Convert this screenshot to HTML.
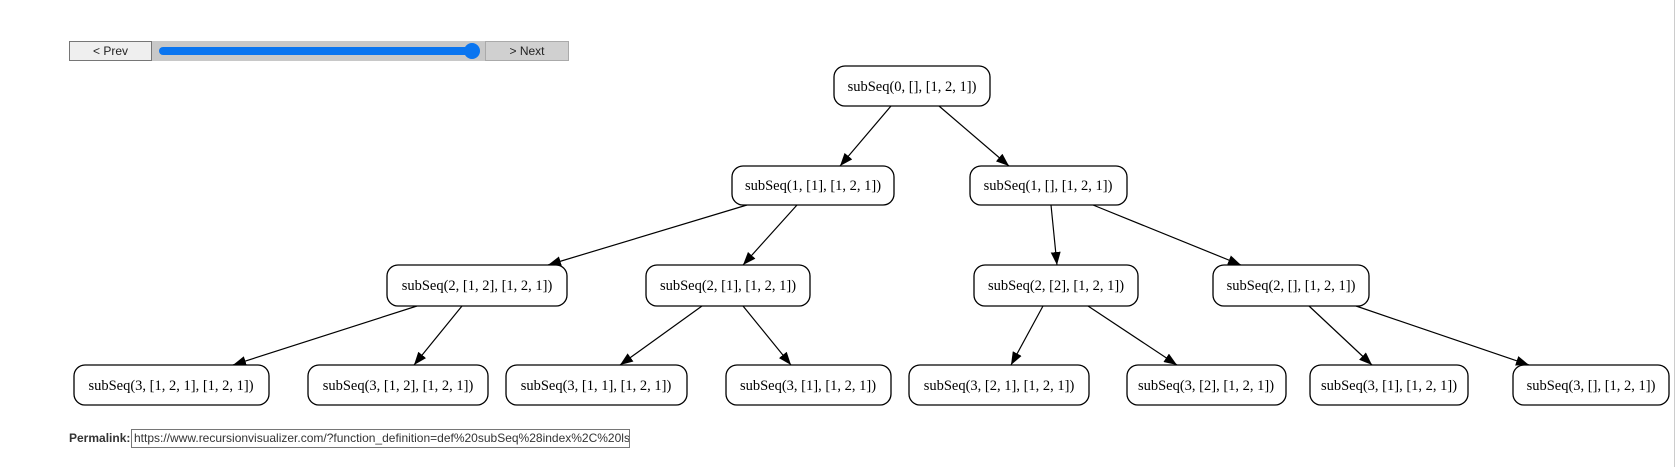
<!DOCTYPE html>
<html><head><meta charset="utf-8"><style>
html,body{margin:0;padding:0;background:#fff;width:1677px;height:467px;overflow:hidden;position:relative;font-family:"Liberation Sans",Arial,sans-serif}
.btn{position:absolute;top:41px;height:20px;font-size:12px;text-align:center;line-height:19px;color:#222;box-sizing:border-box}
#prev{left:69px;width:83px;background:#efefef;border:1px solid #767676}
#bar{position:absolute;left:152px;top:41px;width:333px;height:20px;background:#c8c8c8}
#track{position:absolute;left:159px;top:47px;width:314px;height:8px;border-radius:4px;background:#0a75f0}
#thumb{position:absolute;left:464px;top:43px;width:16px;height:16px;border-radius:50%;background:#0a75f0}
#next{left:485px;width:84px;background:#d0d0d0;border:1px solid #aaa}
#pl{position:absolute;left:69px;top:430px;font-size:12px;font-weight:bold;color:#333;line-height:17px}
#box{position:absolute;left:131px;top:429px;width:499px;height:19px;border:1px solid #767676;box-sizing:border-box;font-size:12px;line-height:17px;padding-left:2px;color:#333;white-space:nowrap;overflow:hidden}
#sb{position:absolute;left:1674px;top:0;width:1px;height:467px;background:#ccc}
svg{position:absolute;left:0;top:0}
text{font-family:"Liberation Serif","Times New Roman",serif;font-size:14.5px;fill:#000}
</style></head><body>
<div id="prev" class="btn">&lt; Prev</div>
<div id="bar"></div><div id="track"></div><div id="thumb"></div>
<div id="next" class="btn">&gt; Next</div>
<svg width="1677" height="467" viewBox="0 0 1677 467">
<defs><marker id="a" markerWidth="13" markerHeight="10" refX="13" refY="5" orient="auto" markerUnits="userSpaceOnUse"><path d="M0,0 L13,5 L0,10 z" fill="#000"/></marker></defs>
<g stroke="#000" stroke-width="1.2" marker-end="url(#a)">
<line x1="891" y1="106" x2="840" y2="166"/>
<line x1="939" y1="106" x2="1009" y2="166"/>
<line x1="747" y1="205" x2="548" y2="265"/>
<line x1="797" y1="205" x2="743" y2="265"/>
<line x1="1051" y1="205" x2="1057" y2="265"/>
<line x1="1093" y1="205" x2="1241" y2="265"/>
<line x1="417" y1="306" x2="233" y2="365"/>
<line x1="462" y1="306" x2="414" y2="365"/>
<line x1="702" y1="306" x2="620" y2="365"/>
<line x1="743" y1="306" x2="791" y2="365"/>
<line x1="1043" y1="306" x2="1011" y2="365"/>
<line x1="1088" y1="306" x2="1177" y2="365"/>
<line x1="1309" y1="306" x2="1372" y2="365"/>
<line x1="1356" y1="306" x2="1529" y2="365"/>
</g>
<g fill="#fff" stroke="#000" stroke-width="1.3">
<rect x="834" y="66" width="156" height="40" rx="11"/>
<rect x="732" y="166" width="162" height="39" rx="11"/>
<rect x="970" y="166" width="157" height="39" rx="11"/>
<rect x="387" y="265" width="180" height="41" rx="11"/>
<rect x="646" y="265" width="164" height="41" rx="11"/>
<rect x="974" y="265" width="164" height="41" rx="11"/>
<rect x="1213" y="265" width="156" height="41" rx="11"/>
<rect x="74" y="365" width="195" height="40" rx="11"/>
<rect x="308" y="365" width="180" height="40" rx="11"/>
<rect x="506" y="365" width="181" height="40" rx="11"/>
<rect x="726" y="365" width="165" height="40" rx="11"/>
<rect x="909" y="365" width="180" height="40" rx="11"/>
<rect x="1127" y="365" width="159" height="40" rx="11"/>
<rect x="1310" y="365" width="158" height="40" rx="11"/>
<rect x="1513" y="365" width="156" height="40" rx="11"/>
</g>
<g text-anchor="middle">
<text x="912" y="91">subSeq(0, [], [1, 2, 1])</text>
<text x="813" y="190">subSeq(1, [1], [1, 2, 1])</text>
<text x="1048" y="190">subSeq(1, [], [1, 2, 1])</text>
<text x="477" y="290">subSeq(2, [1, 2], [1, 2, 1])</text>
<text x="728" y="290">subSeq(2, [1], [1, 2, 1])</text>
<text x="1056" y="290">subSeq(2, [2], [1, 2, 1])</text>
<text x="1291" y="290">subSeq(2, [], [1, 2, 1])</text>
<text x="171" y="390">subSeq(3, [1, 2, 1], [1, 2, 1])</text>
<text x="398" y="390">subSeq(3, [1, 2], [1, 2, 1])</text>
<text x="596" y="390">subSeq(3, [1, 1], [1, 2, 1])</text>
<text x="808" y="390">subSeq(3, [1], [1, 2, 1])</text>
<text x="999" y="390">subSeq(3, [2, 1], [1, 2, 1])</text>
<text x="1206" y="390">subSeq(3, [2], [1, 2, 1])</text>
<text x="1389" y="390">subSeq(3, [1], [1, 2, 1])</text>
<text x="1591" y="390">subSeq(3, [], [1, 2, 1])</text>
</g>
</svg>
<div id="pl">Permalink:</div>
<div id="box">https://www.recursionvisualizer.com/?function_definition=def%20subSeq%28index%2C%20lst%</div>
<div id="sb"></div>
</body></html>
